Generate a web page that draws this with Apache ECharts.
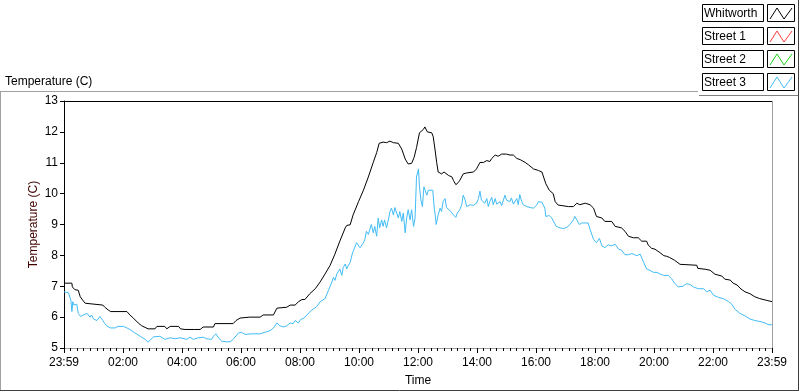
<!DOCTYPE html>
<html>
<head>
<meta charset="utf-8">
<script src="https://cdn.jsdelivr.net/npm/echarts@6/dist/echarts.min.js"></script>
<style>
  html, body { margin: 0; padding: 0; background: #fff; }
  #chart { width: 800px; height: 392px; }
</style>
</head>
<body>
<div id="chart"></div>
<script>
// ---- Data (x = minutes elapsed since the 23:59 start of the record) ----
const seriesNames = ['Whitworth', 'Street 1', 'Street 2', 'Street 3'];
const seriesColors = ['#000000', '#ff3c3c', '#1ed21e', '#41bcf5'];

const xTickLabels = ['23:59', '02:00', '04:00', '06:00', '08:00', '10:00', '12:00', '14:00', '16:00', '18:00', '20:00', '22:00', '23:59'];

// clock minutes since midnight (-1 = 23:59 previous day)
const whitworthMin = [-1, 15, 16, 21, 28, 32, 37, 42, 45, 78, 82, 89, 94, 127, 133, 140, 150, 157, 170, 184, 188, 204, 208, 215, 232, 236, 245, 265, 276, 282, 303, 306, 343, 349, 357, 377, 398, 404, 425, 432, 452, 459, 469, 476, 483, 489, 499, 510, 520, 530, 540, 550, 560, 571, 574, 581, 587, 598, 608, 618, 628, 635, 640, 648, 652, 655, 662, 669, 679, 686, 693, 699, 706, 711, 716, 722, 730, 733, 735, 738, 747, 750, 754, 757, 760, 767, 772, 776, 781, 788, 791, 796, 801, 804, 811, 818, 832, 838, 845, 852, 859, 865, 869, 876, 882, 889, 899, 906, 913, 920, 927, 937, 944, 954, 964, 971, 975, 979, 986, 994, 998, 1004, 1008, 1025, 1028, 1035, 1042, 1048, 1059, 1069, 1076, 1082, 1093, 1099, 1113, 1120, 1133, 1140, 1147, 1157, 1167, 1174, 1184, 1187, 1194, 1201, 1211, 1219, 1225, 1231, 1241, 1252, 1256, 1286, 1288, 1303, 1313, 1323, 1337, 1343, 1354, 1360, 1368, 1376, 1384, 1394, 1404, 1414, 1429, 1439];
const whitworthTemp = [7.10, 7.10, 6.98, 6.89, 6.87, 6.66, 6.55, 6.45, 6.39, 6.39, 6.32, 6.23, 6.18, 6.18, 6.07, 5.97, 5.81, 5.72, 5.62, 5.62, 5.70, 5.70, 5.62, 5.70, 5.70, 5.62, 5.60, 5.60, 5.60, 5.68, 5.68, 5.79, 5.79, 5.89, 5.97, 6.00, 6.00, 6.07, 6.07, 6.29, 6.32, 6.39, 6.39, 6.50, 6.57, 6.57, 6.76, 6.92, 7.14, 7.40, 7.67, 8.04, 8.46, 8.89, 8.97, 8.99, 9.31, 9.74, 10.11, 10.54, 11.01, 11.33, 11.63, 11.67, 11.72, 11.65, 11.70, 11.65, 11.63, 11.44, 11.12, 10.96, 10.98, 11.17, 11.49, 11.97, 12.08, 12.16, 12.13, 12.00, 11.97, 11.84, 11.38, 11.01, 10.70, 10.64, 10.70, 10.70, 10.59, 10.54, 10.43, 10.29, 10.36, 10.43, 10.64, 10.67, 10.70, 10.80, 11.01, 11.01, 11.07, 11.04, 11.14, 11.25, 11.21, 11.28, 11.28, 11.25, 11.25, 11.14, 11.10, 11.01, 10.93, 10.80, 10.75, 10.70, 10.64, 10.32, 10.11, 10.00, 9.74, 9.63, 9.58, 9.58, 9.53, 9.58, 9.69, 9.64, 9.69, 9.64, 9.53, 9.26, 9.21, 9.10, 9.10, 8.94, 8.89, 8.78, 8.62, 8.57, 8.57, 8.46, 8.46, 8.34, 8.23, 8.20, 8.09, 7.99, 7.97, 7.93, 7.84, 7.71, 7.68, 7.68, 7.58, 7.55, 7.52, 7.39, 7.33, 7.23, 7.20, 7.10, 7.04, 6.91, 6.82, 6.76, 6.66, 6.60, 6.54, 6.50];

const street3Min = [-1, 8, 11, 13, 15, 17, 19, 21, 25, 28, 30, 33, 38, 42, 46, 52, 55, 59, 66, 72, 78, 82, 86, 93, 103, 109, 120, 127, 133, 143, 154, 164, 170, 174, 181, 194, 204, 215, 225, 235, 249, 255, 262, 272, 282, 289, 299, 303, 308, 313, 320, 330, 337, 343, 354, 360, 367, 381, 398, 408, 418, 425, 432, 438, 445, 452, 459, 465, 469, 476, 480, 487, 493, 503, 513, 520, 523, 530, 537, 544, 547, 550, 554, 557, 560, 564, 567, 571, 574, 577, 581, 586, 589, 594, 601, 604, 608, 611, 614, 618, 621, 624, 628, 631, 635, 638, 641, 645, 648, 651, 655, 658, 662, 665, 669, 672, 675, 679, 682, 686, 689, 693, 696, 699, 703, 706, 710, 713, 716, 720, 722, 725, 728, 731, 733, 737, 740, 743, 749, 752, 754, 756, 758, 760, 764, 767, 770, 774, 777, 781, 786, 791, 796, 799, 804, 808, 811, 815, 818, 825, 832, 838, 842, 845, 848, 852, 855, 859, 862, 865, 869, 872, 876, 879, 886, 889, 896, 899, 903, 906, 909, 913, 920, 923, 926, 930, 933, 940, 947, 954, 961, 964, 971, 974, 977, 979, 986, 991, 994, 1000, 1008, 1015, 1022, 1028, 1035, 1038, 1042, 1047, 1052, 1059, 1065, 1069, 1076, 1082, 1088, 1093, 1099, 1106, 1113, 1120, 1127, 1133, 1140, 1147, 1154, 1157, 1164, 1171, 1178, 1184, 1191, 1198, 1205, 1211, 1219, 1222, 1228, 1235, 1241, 1248, 1258, 1265, 1272, 1279, 1289, 1300, 1306, 1313, 1320, 1330, 1340, 1351, 1357, 1364, 1374, 1384, 1394, 1404, 1414, 1425, 1431, 1439];
const street3Temp = [6.82, 6.79, 6.77, 6.55, 6.18, 6.50, 6.39, 6.34, 6.42, 6.12, 6.18, 6.02, 6.07, 6.02, 6.12, 6.00, 6.07, 5.94, 5.89, 6.02, 5.89, 5.79, 5.72, 5.65, 5.65, 5.70, 5.70, 5.65, 5.60, 5.49, 5.38, 5.28, 5.19, 5.25, 5.36, 5.38, 5.28, 5.33, 5.30, 5.33, 5.28, 5.35, 5.28, 5.33, 5.35, 5.30, 5.28, 5.38, 5.46, 5.33, 5.22, 5.20, 5.20, 5.28, 5.49, 5.51, 5.44, 5.46, 5.46, 5.51, 5.56, 5.65, 5.81, 5.72, 5.68, 5.72, 5.81, 5.79, 5.89, 5.81, 5.92, 5.97, 6.07, 6.23, 6.34, 6.50, 6.55, 6.60, 6.87, 7.14, 7.29, 7.19, 7.40, 7.35, 7.56, 7.35, 7.61, 7.72, 7.56, 7.66, 7.77, 8.09, 8.20, 8.41, 8.25, 8.30, 8.41, 8.52, 8.78, 8.68, 8.73, 9.00, 8.73, 8.94, 8.62, 9.21, 8.89, 9.15, 8.94, 9.15, 8.89, 9.10, 9.42, 9.53, 9.31, 9.55, 9.58, 9.21, 9.42, 9.10, 9.37, 8.73, 9.21, 9.48, 9.15, 9.48, 8.94, 9.21, 10.54, 10.80, 10.22, 9.79, 9.58, 10.22, 10.22, 9.95, 10.11, 10.08, 10.11, 9.53, 9.31, 9.00, 8.94, 9.31, 9.53, 9.42, 9.74, 9.84, 9.55, 9.53, 9.42, 9.31, 9.23, 9.37, 9.48, 9.64, 9.95, 9.79, 9.58, 9.64, 9.62, 9.69, 9.84, 10.08, 9.79, 9.79, 9.69, 9.84, 9.58, 9.74, 9.88, 9.64, 9.84, 9.66, 9.74, 9.61, 9.95, 9.79, 9.84, 9.74, 9.86, 9.66, 9.84, 9.64, 9.97, 9.74, 9.64, 9.58, 9.55, 9.53, 9.64, 9.74, 9.72, 9.69, 9.53, 9.26, 9.29, 9.21, 9.15, 8.94, 8.89, 8.87, 8.91, 9.00, 9.15, 9.26, 9.15, 9.00, 9.05, 9.05, 9.05, 8.84, 8.52, 8.41, 8.55, 8.31, 8.25, 8.34, 8.31, 8.36, 8.20, 8.17, 8.02, 8.02, 8.06, 8.09, 7.99, 8.04, 7.77, 7.56, 7.51, 7.45, 7.45, 7.40, 7.35, 7.32, 7.35, 7.24, 7.10, 6.98, 7.00, 7.08, 7.06, 6.98, 6.92, 6.92, 6.82, 6.87, 6.71, 6.64, 6.60, 6.50, 6.42, 6.25, 6.12, 6.04, 5.94, 5.89, 5.86, 5.81, 5.76, 5.75];

// ---- Build ----
const FONT = '"Liberation Sans", Arial, sans-serif';
// elapsed minutes since the 23:59 start
function zip(mins, temps) { return mins.map((m, i) => [m + 1, temps[i]]); }
function fmtTime(v) {
  const i = Math.round(v / 120);
  return xTickLabels[i] !== undefined ? xTickLabels[i] : '';
}

const chart = echarts.init(document.getElementById('chart'), null, { renderer: 'canvas' });

const legendGraphics = [];
seriesNames.forEach((name, i) => {
  const top = 4 + i * 23;
  legendGraphics.push({
    type: 'rect', shape: { x: 702.5, y: top + 0.5, width: 61, height: 17 },
    style: { fill: '#fff', stroke: '#000', lineWidth: 1 }, silent: true
  });
  legendGraphics.push({
    type: 'text', x: 704, y: top + 9.5,
    style: { text: name, fill: '#000', font: '12px ' + FONT, verticalAlign: 'middle' }, silent: true
  });
  legendGraphics.push({
    type: 'rect', shape: { x: 767.5, y: top + 0.5, width: 27, height: 17 },
    style: { fill: '#fff', stroke: '#000', lineWidth: 1 }, silent: true
  });
  legendGraphics.push({
    type: 'polyline', shape: { points: [[770, top + 15], [777, top + 4], [784, top + 15], [792, top + 4]] },
    style: { stroke: seriesColors[i], lineWidth: 1, fill: null }, silent: true
  });
});

const frame = [
  { type: 'line', shape: { x1: 0, y1: 91.5, x2: 698, y2: 91.5 }, style: { stroke: '#a0a0a0', lineWidth: 1 } },
  { type: 'line', shape: { x1: 0.5, y1: 91, x2: 0.5, y2: 391 }, style: { stroke: '#a0a0a0', lineWidth: 1 } },
  { type: 'line', shape: { x1: 0, y1: 390.5, x2: 799, y2: 390.5 }, style: { stroke: '#404040', lineWidth: 1 } },
  { type: 'line', shape: { x1: 798.5, y1: 0, x2: 798.5, y2: 391 }, style: { stroke: '#404040', lineWidth: 1 } },
  { type: 'line', shape: { x1: 699, y1: 95.5, x2: 798, y2: 95.5 }, style: { stroke: '#808080', lineWidth: 1 } },
  { type: 'line', shape: { x1: 64, y1: 101.5, x2: 772, y2: 101.5 }, style: { stroke: '#000', lineWidth: 1 } },
  { type: 'line', shape: { x1: 772.5, y1: 101, x2: 772.5, y2: 353 }, style: { stroke: '#a0a0a0', lineWidth: 1 } },
  { type: 'text', x: 5, y: 82, style: { text: 'Temperature (C)', fill: '#000', font: '12px ' + FONT, verticalAlign: 'middle' } }
].map(g => Object.assign({ silent: true }, g));

chart.setOption({
  animation: false,
  backgroundColor: '#fff',
  grid: { left: 64, right: 28, top: 101, bottom: 40, containLabel: false },
  xAxis: {
    type: 'value', min: 0, max: 1440, interval: 120,
    name: 'Time', nameLocation: 'middle', nameGap: 27, nameMoveOverlap: false,
    nameTextStyle: { color: '#000', fontSize: 12, fontFamily: FONT },
    axisLine: { show: true, lineStyle: { color: '#a0a0a0', width: 1 } },
    axisTick: { show: true, length: 5, lineStyle: { color: '#000' } },
    minorTick: { show: true, splitNumber: 9, length: 3, lineStyle: { color: '#000', width: 1 } },
    axisLabel: { show: true, color: '#000', fontSize: 12, fontFamily: FONT, margin: 9, formatter: fmtTime, showMinLabel: true, showMaxLabel: true },
    splitLine: { show: false }, minorSplitLine: { show: false }
  },
  yAxis: {
    type: 'value', min: 5, max: 13, interval: 1,
    name: 'Temperature (C)', nameLocation: 'middle', nameRotate: 90, nameGap: 24, nameMoveOverlap: false,
    nameTextStyle: { color: '#400000', fontSize: 12, fontFamily: FONT },
    axisLine: { show: true, lineStyle: { color: '#000', width: 1 } },
    axisTick: { show: true, length: 4, lineStyle: { color: '#000' } },
    axisLabel: { color: '#000', fontSize: 12, fontFamily: FONT, margin: 6 },
    splitLine: { show: false }
  },
  graphic: frame.concat(legendGraphics),
  series: [
    {
      name: seriesNames[0], type: 'line', data: zip(whitworthMin, whitworthTemp),
      showSymbol: false, lineStyle: { color: seriesColors[0], width: 1 }, itemStyle: { color: seriesColors[0] }, z: 3
    },
    {
      name: seriesNames[3], type: 'line', data: zip(street3Min, street3Temp),
      showSymbol: false, lineStyle: { color: seriesColors[3], width: 1 }, itemStyle: { color: seriesColors[3] }, z: 2
    }
  ]
});
</script>
</body>
</html>
